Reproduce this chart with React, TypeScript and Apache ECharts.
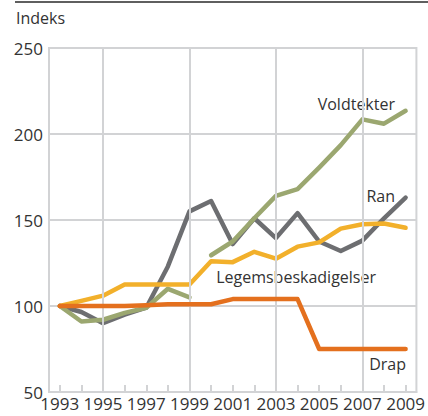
import React, { useEffect, useRef } from "react";
import * as echarts from "echarts";

const years = ["1993","1994","1995","1996","1997","1998","1999","2000","2001","2002","2003","2004","2005","2006","2007","2008","2009"];
const ran = [100, 96.5, 90, 95, 99, 123, 155, 161, 136, 151, 139.5, 154, 137.5, 132, 138, 151, 163];
const voldtekter = [100, 91, 92, 96, 99, 110, 105, 129.5, 137.5, 151, 164, 168, 180.5, 193.5, 208.5, 206, 213.5];
const voldtekterBreakAfter = "1999";
const legems = [100, 103, 106, 112.5, 112.5, 112.5, 112.5, 126, 125.5, 131.5, 127.5, 134.5, 137, 145, 147.5, 148, 145.5];
const drap = [100, 100, 100, 100, 100.5, 101, 101, 101, 104, 104, 104, 104, 75, 75, 75, 75, 75];
const yTicks = [50, 100, 150, 200, 250];
const gridYears = ["1995", "1999", "2003", "2007"];
const seriesNames = ["Ran", "Voldtekter", "Legemsbeskadigelser", "Drap"];

const FONT = "'Open Sans', 'Noto Sans', sans-serif";
const GRID = "#d2d3d5";
const TEXT = "#333333";

export default function App() {
  const ref = useRef<HTMLDivElement>(null);
  useEffect(() => {
    document.body.style.margin = "0";
    if (!ref.current) return;
    const chart = echarts.init(ref.current, null, { renderer: "svg" });
    const brk = years.indexOf(voldtekterBreakAfter);
    const lineSeries = (name: string, data: (number | null)[], color: string, z: number) => ({
      type: "line",
      name,
      data,
      z,
      symbol: "none",
      connectNulls: false,
      lineStyle: { color, width: 4.5, cap: "round", join: "round" },
      itemStyle: { color },
    });
    chart.setOption({
      animation: false,
      textStyle: { fontFamily: FONT },
      grid: {
        left: 49,
        right: 10,
        top: 48,
        bottom: 24,
        show: true,
        borderColor: GRID,
        borderWidth: 2,
        backgroundColor: "transparent",
      },
      xAxis: {
        type: "category",
        data: years,
        boundaryGap: true,
        axisLine: { show: true, lineStyle: { color: GRID, width: 2 } },
        axisTick: {
          show: true,
          interval: 0,
          alignWithLabel: true,
          inside: true,
          length: 7,
          lineStyle: { color: GRID, width: 2 },
        },
        axisLabel: { interval: 1, color: TEXT, fontSize: 17, margin: 3, fontFamily: FONT },
        splitLine: { show: false },
      },
      yAxis: {
        type: "value",
        min: yTicks[0],
        max: yTicks[yTicks.length - 1],
        interval: 50,
        axisLine: { show: true, lineStyle: { color: GRID, width: 2 } },
        axisTick: { show: false },
        axisLabel: { color: TEXT, fontSize: 17, margin: 6, fontFamily: FONT },
        splitLine: { show: true, lineStyle: { color: GRID, width: 2 } },
      },
      series: [
        {
          type: "line",
          data: years.map(() => null),
          z: 1,
          symbol: "none",
          markLine: {
            silent: true,
            symbol: ["none", "none"],
            label: { show: false },
            lineStyle: { color: GRID, width: 2, type: "solid" },
            data: gridYears.map((y) => ({ xAxis: y })),
          },
        },
        lineSeries(seriesNames[0], ran, "#6d6e71", 2),
        lineSeries(seriesNames[1], voldtekter.map((v, i) => (i <= brk ? v : null)), "#9ba770", 3),
        lineSeries(seriesNames[1], voldtekter.map((v, i) => (i > brk ? v : null)), "#9ba770", 3),
        lineSeries(seriesNames[2], legems, "#f2b02b", 4),
        lineSeries(seriesNames[3], drap, "#e4701e", 5),
      ],
      graphic: [
        { type: "line", shape: { x1: 15, y1: 2, x2: 428, y2: 2 }, style: { stroke: "#5f5f5f", lineWidth: 2 } },
        { type: "text", x: 16, y: 18, style: { text: "Indeks", fill: TEXT, font: `16px ${FONT}`, textVerticalAlign: "middle" } },
        { type: "text", x: 395, y: 104, style: { text: seriesNames[1], fill: TEXT, font: `16px ${FONT}`, textAlign: "right", textVerticalAlign: "middle" } },
        { type: "text", x: 395, y: 196, style: { text: seriesNames[0], fill: TEXT, font: `16px ${FONT}`, textAlign: "right", textVerticalAlign: "middle" } },
        { type: "text", x: 376, y: 277, style: { text: seriesNames[2], fill: TEXT, font: `16px ${FONT}`, textAlign: "right", textVerticalAlign: "middle" } },
        { type: "text", x: 406, y: 364, style: { text: seriesNames[3], fill: TEXT, font: `16px ${FONT}`, textAlign: "right", textVerticalAlign: "middle" } },
      ],
    });
    return () => chart.dispose();
  }, []);
  return <div ref={ref} style={{ width: 428, height: 416 }} />;
}
